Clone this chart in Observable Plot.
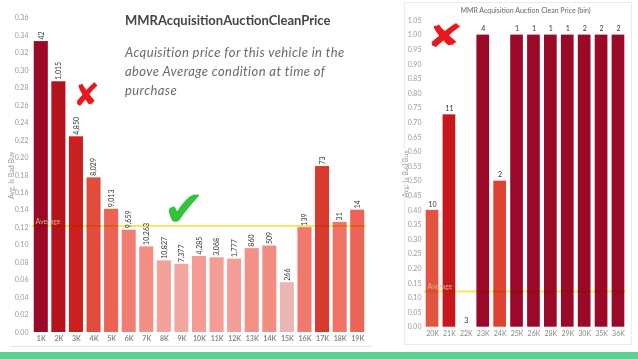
<!DOCTYPE html>
<html><head><meta charset="utf-8">
<script src="https://cdn.jsdelivr.net/npm/d3@7"></script>
<script src="https://cdn.jsdelivr.net/npm/@observablehq/plot@0.6"></script>
<style>
html,body{margin:0;padding:0;background:#fff;}
#slide{position:relative;width:638px;height:359px;overflow:hidden;background:#fff;font-family:Lato,"Open Sans",sans-serif;}
.abs{position:absolute;}
.abs svg{display:block;overflow:visible;}
</style></head><body><div id="slide"></div>
<script>
// ---- data ----
const averageRate = 0.122;
const leftCategories = ["1K","2K","3K","4K","5K","6K","7K","8K","9K","10K","11K","12K","13K","14K","15K","16K","17K","18K","19K"];
const leftRates = [0.333,0.287,0.224,0.177,0.141,0.117,0.098,0.082,0.078,0.087,0.0855,0.084,0.096,0.099,0.057,0.120,0.190,0.126,0.140];
const leftCounts = [42,1015,4850,8029,9013,9659,10263,10827,7377,4285,3068,1777,860,509,266,139,73,31,14];
const leftTicks = [0,0.02,0.04,0.06,0.08,0.10,0.12,0.14,0.16,0.18,0.20,0.22,0.24,0.26,0.28,0.30,0.32,0.34,0.36];

const rightCategories = ["20K","21K","22K","23K","24K","25K","26K","28K","29K","30K","35K","36K"];
const rightRates = [0.40,0.727,0,1,0.5,1,1,1,1,1,1,1];
const rightCounts = [10,11,3,4,2,1,1,1,1,2,2,2];
const rightTicks = [0,0.05,0.10,0.15,0.20,0.25,0.30,0.35,0.40,0.45,0.50,0.55,0.60,0.65,0.70,0.75,0.80,0.85,0.90,0.95,1.00,1.05];

const titleText = "MMRAcquisitionAuctionCleanPrice";
const descLines = ["Acquisition price for this vehicle in the", "above Average condition at time of", "purchase"];
const rightTitle = "MMR Acquisition Auction Clean Price (bin)";
const yLabel = "Avg. Is Bad Buy";

const leftData = leftCategories.map((c,i)=>({cat:c, rate:leftRates[i], count:leftCounts[i]}));
const rightData = rightCategories.map((c,i)=>({cat:c, rate:rightRates[i], count:rightCounts[i]}));
const fmt2 = d3.format(".2f");
const slide = document.getElementById("slide");

function place(node, left, top){
  const d = document.createElement("div");
  d.className = "abs"; d.style.left = left+"px"; d.style.top = top+"px";
  d.appendChild(node); slide.appendChild(d); return d;
}

// ---- left chart ----
const left = Plot.plot({
  width: 375, height: 350,
  marginLeft: 32, marginRight: 9, marginTop: 17.5, marginBottom: 18,
  style: {fontFamily: "Lato, sans-serif", fontSize: "7px", background: "transparent"},
  x: {domain: leftCategories, paddingInner: 0.2, paddingOuter: 0.1, round: false, label: null},
  y: {domain: [0, 0.36], label: null},
  color: {type: "linear", clamp: true,
    domain: [0.05,0.08,0.10,0.12,0.14,0.18,0.19,0.225,0.29,0.335],
    range: ["#e8baba","#f4a39d","#f38c81","#f07a6e","#ec6456","#e04a3b","#d93a2e","#cc1f1f","#b3111c","#990a27"]},
  marks: [
    Plot.axisY({ticks: leftTicks, tickFormat: fmt2, tickSize: 0, tickPadding: 4, fill: "#9a9a9a", label: yLabel, labelAnchor: "center", labelArrow: "none", labelOffset: 23}),
    Plot.axisX({tickSize: 0, tickPadding: 4, fill: "#888", fontWeight: "bold", label: null}),
    Plot.barY(leftData, {x: "cat", y: "rate", fill: "rate"}),
    Plot.ruleY([averageRate], {stroke: "#f5e860", strokeWidth: 2, mixBlendMode: "multiply"}),
    Plot.text([averageRate], {y: d=>d, text: ()=>"Average", frameAnchor: "left", textAnchor: "start", dx: 3, dy: -4, fill: "#d0b08a", fontSize: 7}),
    Plot.text(leftData, {x: "cat", y: "rate", text: d=>d.count.toLocaleString("en-US"), rotate: -90, textAnchor: "start", dy: -2, fill: "#333", fontSize: 7})
  ]
});
place(left, 0, 0);

// ---- right chart ----
const right = Plot.plot({
  width: 238, height: 350,
  marginLeft: 24, marginRight: 12, marginTop: 20, marginBottom: 23.3,
  style: {fontFamily: "Lato, sans-serif", fontSize: "7px", background: "transparent"},
  x: {domain: rightCategories, paddingInner: 0.25, paddingOuter: 0.1, round: false, label: null},
  y: {domain: [0, 1.05], label: null},
  color: {type: "linear", clamp: true, domain: [0.4,0.5,0.727,1], range: ["#e35342","#de4331","#c8171c","#9a0a28"]},
  marks: [
    Plot.axisY({ticks: rightTicks, tickFormat: fmt2, tickSize: 0, tickPadding: 3, fill: "#9a9a9a", label: yLabel, labelAnchor: "center", labelArrow: "none", labelOffset: 21}),
    Plot.axisX({tickSize: 0, tickPadding: 4, fill: "#888", label: null}),
    Plot.barY(rightData, {x: "cat", y: "rate", fill: "rate"}),
    Plot.ruleY([averageRate], {stroke: "#f5e860", strokeWidth: 2, mixBlendMode: "multiply"}),
    Plot.text([averageRate], {y: d=>d, text: ()=>"Average", frameAnchor: "left", textAnchor: "start", dx: 3, dy: -5, fill: "#d0b08a", fontSize: 7}),
    Plot.text(rightData, {x: "cat", y: "rate", text: d=>String(d.count), dy: -6, fill: "#333", fontSize: 7}),
    Plot.text([rightTitle], {frameAnchor: "top", dy: -12, fill: "#666", fontSize: 7})
  ]
});
place(right, 400, 0);

// ---- frame & separators ----
const frame = document.createElement("div");
frame.className = "abs";
Object.assign(frame.style, {left:"404px", top:"2px", width:"226px", height:"341px", border:"1px solid #ececec"});
slide.appendChild(frame);
const sep = document.createElement("div");
sep.className = "abs";
Object.assign(sep.style, {left:"10px", top:"346px", width:"362px", height:"1px", background:"#e4e4e4"});
slide.appendChild(sep);
const band = document.createElement("div");
band.className = "abs";
Object.assign(band.style, {left:"0px", top:"352px", width:"638px", height:"7px", background:"#5fcf95"});
slide.appendChild(band);

// ---- text block ----
const t = document.createElement("div");
t.className = "abs";
Object.assign(t.style, {left:"125px", top:"12px", fontSize:"13px", fontWeight:"bold", color:"#454545", whiteSpace:"nowrap"});
t.textContent = titleText;
slide.appendChild(t);
const s = document.createElement("div");
s.className = "abs";
Object.assign(s.style, {left:"125px", top:"43px", fontSize:"13px", fontStyle:"italic", color:"#6a6a6a", lineHeight:"19px", letterSpacing:"0.4px", whiteSpace:"nowrap"});
descLines.forEach(line => { const l = document.createElement("div"); l.textContent = line; s.appendChild(l); });
slide.appendChild(s);

// ---- annotations ----
function mark(ch, left, top, size, color, sx){
  const d = document.createElement("div");
  d.className = "abs";
  Object.assign(d.style, {left:left+"px", top:top+"px", fontSize:size+"px", color, fontFamily:"DejaVu Sans", lineHeight:"1", transform:`scaleX(${sx||1})`, transformOrigin:"left top"});
  d.textContent = ch; slide.appendChild(d);
}
mark("\u2718", 73, 79, 32, "#e6191d", 1.0);
mark("\u2718", 426, 20, 32, "#e6191d", 1.4);
mark("\u2714", 163, 184, 50, "#33c23a", 1);
</script>
</body></html>
